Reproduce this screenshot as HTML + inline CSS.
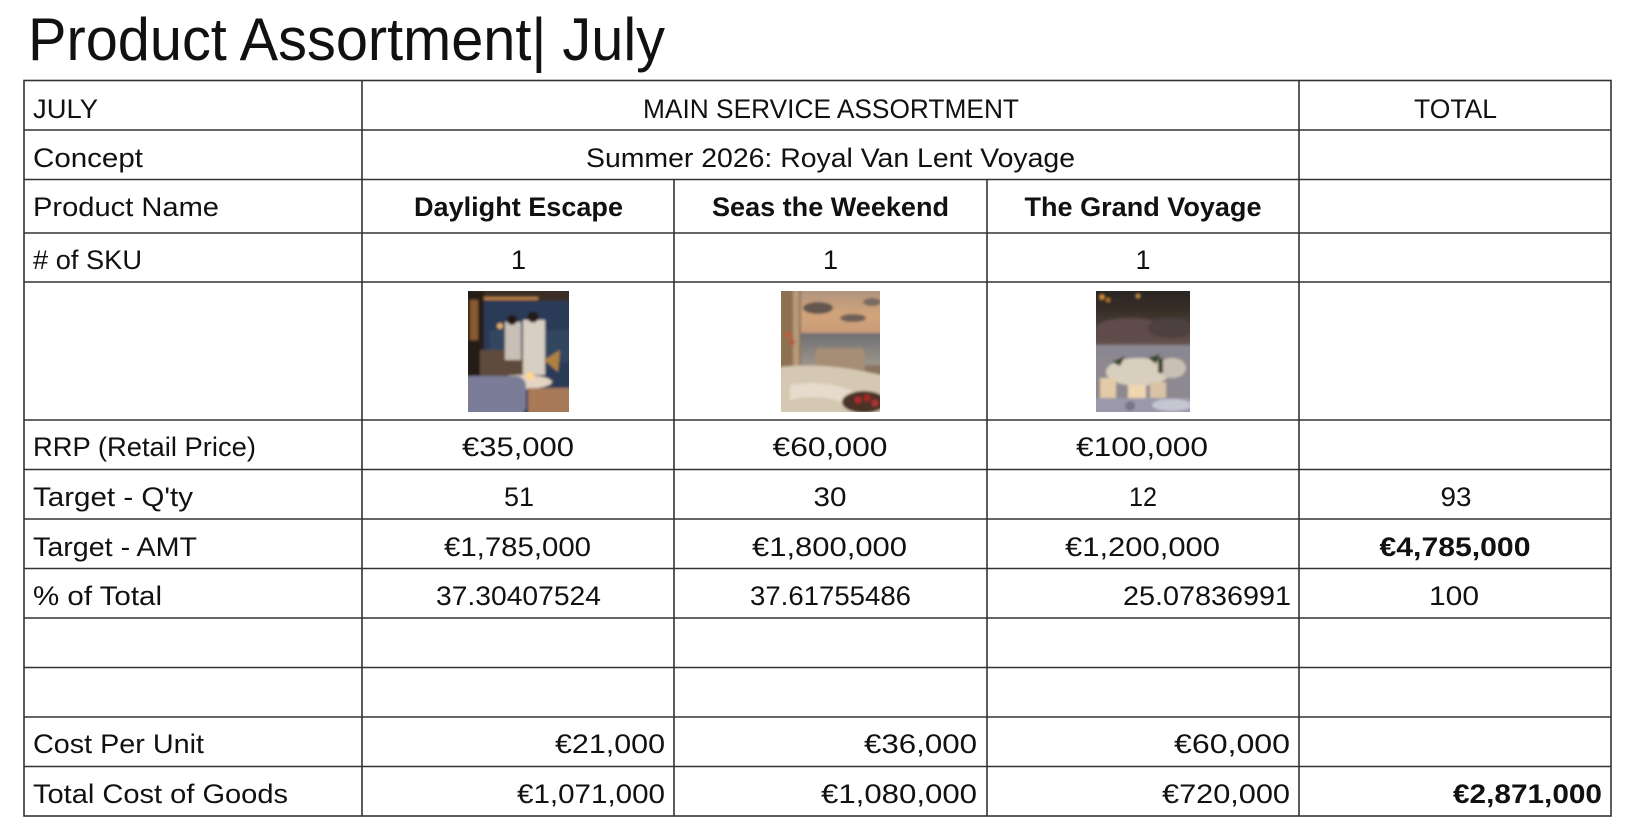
<!DOCTYPE html>
<html><head><meta charset="utf-8"><style>
html,body{margin:0;padding:0;background:#fff;}
svg{display:block;}
text{font-family:"Liberation Sans",sans-serif;fill:#111;}
</style></head><body>
<svg width="1634" height="838" viewBox="0 0 1634 838" xmlns="http://www.w3.org/2000/svg">
<defs>
<filter id="bl" x="-5%" y="-5%" width="110%" height="110%"><feGaussianBlur stdDeviation="1.3"/></filter>
<clipPath id="c1"><rect x="468" y="291" width="101" height="121"/></clipPath>
<clipPath id="c2"><rect x="781" y="291" width="99" height="121"/></clipPath>
<clipPath id="c3"><rect x="1096" y="291" width="94" height="121"/></clipPath>
<linearGradient id="sky2" x1="0" y1="0" x2="0" y2="1"><stop offset="0" stop-color="#a89080"/><stop offset="0.6" stop-color="#d2a47a"/><stop offset="1" stop-color="#c89c78"/></linearGradient>
<linearGradient id="sea2" x1="0" y1="0" x2="0" y2="1"><stop offset="0" stop-color="#6e6e72"/><stop offset="1" stop-color="#9c958a"/></linearGradient>
<linearGradient id="top3" x1="0" y1="0" x2="0" y2="1"><stop offset="0" stop-color="#26221e"/><stop offset="0.45" stop-color="#3a302a"/><stop offset="1" stop-color="#6a5652"/></linearGradient>
</defs>

<!-- title -->
<text x="28" y="60" font-size="60" textLength="637" lengthAdjust="spacingAndGlyphs">Product Assortment| July</text>

<!-- images -->
<g clip-path="url(#c1)"><g filter="url(#bl)">
<rect x="460" y="285" width="115" height="135" fill="#2c3a58"/>
<rect x="460" y="285" width="115" height="16" fill="#3a2e28"/>
<rect x="468" y="297" width="70" height="3" fill="#b88048"/>
<rect x="490" y="330" width="85" height="32" fill="#33465f"/>
<rect x="460" y="291" width="24" height="125" fill="#271d16"/>
<rect x="470" y="300" width="8" height="40" fill="#8a5a30"/>
<circle cx="500" cy="326" r="3" fill="#e0b070"/>
<rect x="480" y="350" width="48" height="30" fill="#5e4c3e"/>
<rect x="505" y="322" width="16" height="38" fill="#c8c0b6"/>
<circle cx="512" cy="320" r="5" fill="#20160f"/>
<rect x="523" y="320" width="22" height="55" fill="#d8cec2"/>
<circle cx="533" cy="317" r="5.5" fill="#241a12"/>
<path d="M544 360 L560 350 L558 372 Z" fill="#b08040"/>
<ellipse cx="522" cy="382" rx="30" ry="7" fill="#e4d4c2"/>
<circle cx="530" cy="376" r="4" fill="#ffd68a"/>
<rect x="460" y="376" width="66" height="40" rx="10" fill="#7a7c98"/>
<rect x="528" y="388" width="45" height="28" fill="#a87a58"/>
</g></g>

<g clip-path="url(#c2)"><g filter="url(#bl)">
<rect x="775" y="285" width="110" height="135" fill="#8a7560"/>
<rect x="801" y="285" width="85" height="49" fill="url(#sky2)"/>
<ellipse cx="818" cy="308" rx="15" ry="6" fill="#655650"/>
<ellipse cx="853" cy="318" rx="13" ry="4" fill="#6e5e56"/>
<ellipse cx="872" cy="302" rx="9" ry="4" fill="#7a6a60"/>
<rect x="801" y="333" width="85" height="32" fill="url(#sea2)"/>
<rect x="775" y="285" width="24" height="135" fill="#8e7052"/>
<rect x="793" y="285" width="6" height="90" fill="#b89a78"/>
<circle cx="788" cy="335" r="3" fill="#c05a38"/>
<circle cx="792" cy="342" r="3" fill="#b85a3a"/>
<rect x="815" y="348" width="50" height="32" rx="5" fill="#a58e74"/>
<path d="M775 368 Q820 360 885 376 L885 420 L775 420 Z" fill="#d4c8b2"/>
<path d="M790 385 Q830 378 860 395 L850 405 Q820 392 790 400 Z" fill="#e6dccb"/>
<ellipse cx="864" cy="402" rx="22" ry="11" fill="#4a3028"/>
<circle cx="858" cy="400" r="3.5" fill="#b02a2a"/>
<circle cx="867" cy="398" r="3.5" fill="#a82828"/>
<circle cx="875" cy="403" r="3.5" fill="#b03030"/>
</g></g>

<g clip-path="url(#c3)"><g filter="url(#bl)">
<rect x="1090" y="285" width="105" height="62" fill="url(#top3)"/>
<ellipse cx="1130" cy="330" rx="35" ry="12" fill="#5e4c48"/>
<ellipse cx="1170" cy="328" rx="22" ry="10" fill="#4e4040"/>
<circle cx="1102" cy="297" r="2.5" fill="#d89040"/>
<circle cx="1108" cy="300" r="2" fill="#c07a30"/>
<circle cx="1138" cy="296" r="2" fill="#c89050"/>
<rect x="1090" y="345" width="105" height="12" fill="#8a8692"/>
<rect x="1090" y="357" width="105" height="45" fill="#8e8890"/>
<ellipse cx="1138" cy="372" rx="32" ry="14" fill="#d8cfbe"/>
<ellipse cx="1172" cy="368" rx="14" ry="10" fill="#c8c0b4"/>
<path d="M1112 362 L1125 356 L1120 366 Z" fill="#3a4a30"/>
<path d="M1148 358 L1160 354 L1156 364 Z" fill="#3a4a30"/>
<rect x="1158" y="358" width="5" height="15" fill="#3e4a32"/>
<rect x="1100" y="378" width="16" height="20" fill="#e2cba6"/>
<rect x="1128" y="385" width="18" height="18" fill="#eed6ae"/>
<rect x="1150" y="382" width="16" height="18" fill="#d8c4a4"/>
<rect x="1090" y="398" width="105" height="20" fill="#9a98aa"/>
<ellipse cx="1172" cy="405" rx="20" ry="6" fill="#c6c6d2"/>
<circle cx="1130" cy="406" r="5" fill="#7a7488"/>
</g></g>

<!-- grid -->
<g stroke="#333" stroke-width="1.6" fill="none">
<rect x="24" y="80.5" width="1587" height="735.5"/>
<line x1="24" y1="130" x2="1611" y2="130"/>
<line x1="24" y1="179.5" x2="1611" y2="179.5"/>
<line x1="24" y1="233" x2="1611" y2="233"/>
<line x1="24" y1="282" x2="1611" y2="282"/>
<line x1="24" y1="420" x2="1611" y2="420"/>
<line x1="24" y1="469.5" x2="1611" y2="469.5"/>
<line x1="24" y1="519" x2="1611" y2="519"/>
<line x1="24" y1="568.5" x2="1611" y2="568.5"/>
<line x1="24" y1="618" x2="1611" y2="618"/>
<line x1="24" y1="667.5" x2="1611" y2="667.5"/>
<line x1="24" y1="717" x2="1611" y2="717"/>
<line x1="24" y1="766.5" x2="1611" y2="766.5"/>
<line x1="362" y1="80.5" x2="362" y2="816"/>
<line x1="1299" y1="80.5" x2="1299" y2="816"/>
<line x1="674" y1="179.5" x2="674" y2="816"/>
<line x1="987" y1="179.5" x2="987" y2="816"/>
</g>

<!-- row labels -->
<g font-size="27" lengthAdjust="spacingAndGlyphs">
<text x="33" y="118" textLength="65" lengthAdjust="spacingAndGlyphs">JULY</text>
<text x="33" y="167" textLength="110" lengthAdjust="spacingAndGlyphs">Concept</text>
<text x="33" y="216" textLength="186" lengthAdjust="spacingAndGlyphs">Product Name</text>
<text x="33" y="269" textLength="109" lengthAdjust="spacingAndGlyphs"># of SKU</text>
<text x="33" y="456" textLength="223" lengthAdjust="spacingAndGlyphs">RRP (Retail Price)</text>
<text x="33" y="506" textLength="160" lengthAdjust="spacingAndGlyphs">Target - Q'ty</text>
<text x="33" y="556" textLength="164" lengthAdjust="spacingAndGlyphs">Target - AMT</text>
<text x="33" y="605" textLength="129" lengthAdjust="spacingAndGlyphs">% of Total</text>
<text x="33" y="753" textLength="171" lengthAdjust="spacingAndGlyphs">Cost Per Unit</text>
<text x="33" y="803" textLength="255" lengthAdjust="spacingAndGlyphs">Total Cost of Goods</text>
</g>

<!-- header texts -->
<g font-size="27" text-anchor="middle">
<text x="831" y="118" textLength="376" lengthAdjust="spacingAndGlyphs">MAIN SERVICE ASSORTMENT</text>
<text x="1455.5" y="118" textLength="83" lengthAdjust="spacingAndGlyphs">TOTAL</text>
<text x="830.5" y="167" textLength="489" lengthAdjust="spacingAndGlyphs">Summer 2026: Royal Van Lent Voyage</text>
<text x="518.5" y="216" font-weight="bold" textLength="209" lengthAdjust="spacingAndGlyphs">Daylight Escape</text>
<text x="830.5" y="216" font-weight="bold" textLength="237" lengthAdjust="spacingAndGlyphs">Seas the Weekend</text>
<text x="1143" y="216" font-weight="bold" textLength="237" lengthAdjust="spacingAndGlyphs">The Grand Voyage</text>
<text x="518.5" y="269">1</text>
<text x="830.5" y="269">1</text>
<text x="1143" y="269">1</text>
<text x="518" y="456" textLength="112" lengthAdjust="spacingAndGlyphs">€35,000</text>
<text x="830" y="456" textLength="115" lengthAdjust="spacingAndGlyphs">€60,000</text>
<text x="1142" y="456" textLength="132" lengthAdjust="spacingAndGlyphs">€100,000</text>
<text x="519" y="506" textLength="30" lengthAdjust="spacingAndGlyphs">51</text>
<text x="830" y="506" textLength="33" lengthAdjust="spacingAndGlyphs">30</text>
<text x="1143" y="506" textLength="28" lengthAdjust="spacingAndGlyphs">12</text>
<text x="1456" y="506" textLength="31" lengthAdjust="spacingAndGlyphs">93</text>
<text x="517.5" y="556" textLength="147" lengthAdjust="spacingAndGlyphs">€1,785,000</text>
<text x="829.5" y="556" textLength="155" lengthAdjust="spacingAndGlyphs">€1,800,000</text>
<text x="1142.5" y="556" textLength="155" lengthAdjust="spacingAndGlyphs">€1,200,000</text>
<text x="1455" y="556" font-weight="bold" textLength="151" lengthAdjust="spacingAndGlyphs">€4,785,000</text>
<text x="518.5" y="605" textLength="165" lengthAdjust="spacingAndGlyphs">37.30407524</text>
<text x="830.5" y="605" textLength="161" lengthAdjust="spacingAndGlyphs">37.61755486</text>
<text x="1454" y="605" textLength="50" lengthAdjust="spacingAndGlyphs">100</text>
</g>
<g font-size="27" text-anchor="end">
<text x="1291" y="605" textLength="168" lengthAdjust="spacingAndGlyphs">25.07836991</text>
<text x="665" y="753" textLength="110" lengthAdjust="spacingAndGlyphs">€21,000</text>
<text x="977" y="753" textLength="113" lengthAdjust="spacingAndGlyphs">€36,000</text>
<text x="1290" y="753" textLength="116" lengthAdjust="spacingAndGlyphs">€60,000</text>
<text x="665" y="803" textLength="148" lengthAdjust="spacingAndGlyphs">€1,071,000</text>
<text x="977" y="803" textLength="156" lengthAdjust="spacingAndGlyphs">€1,080,000</text>
<text x="1290" y="803" textLength="128" lengthAdjust="spacingAndGlyphs">€720,000</text>
<text x="1602" y="803" font-weight="bold" textLength="149" lengthAdjust="spacingAndGlyphs">€2,871,000</text>
</g>
</svg>
</body></html>
